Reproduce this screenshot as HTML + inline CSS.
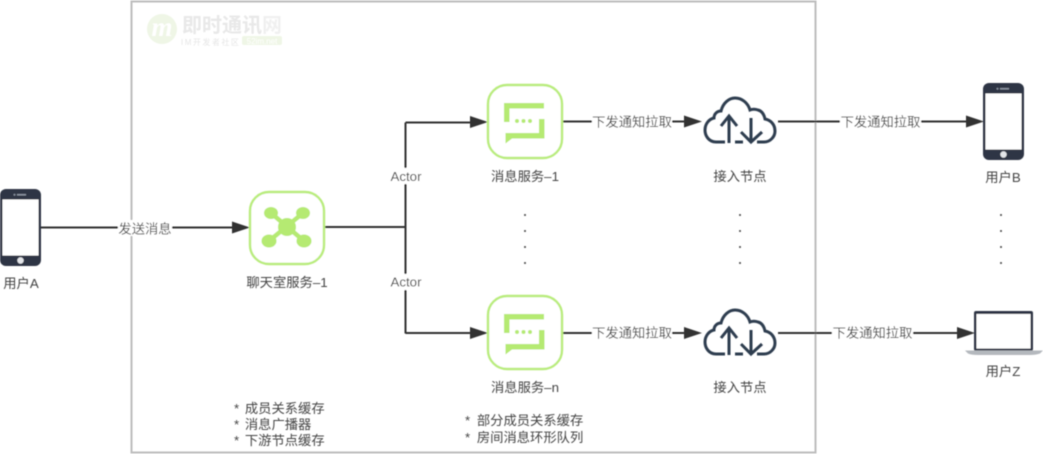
<!DOCTYPE html>
<html><head><meta charset="utf-8"><style>
html,body{margin:0;padding:0;background:#fff;width:1043px;height:454px;overflow:hidden}
svg{display:block}
text{font-family:"Liberation Sans","Noto Sans CJK SC",sans-serif;font-size:13.3px;fill:#444}
.c{text-anchor:middle}
.l{stroke:#333;stroke-width:2;fill:none}
.a{fill:#333}
.n{fill:#fff;stroke:#b9ec7d;stroke-width:2.4}
.g{fill:#b5ea72}
.d{fill:#2f3545}
.cl{fill:none;stroke:#2f3e50;stroke-width:3}
</style></head><body>
<svg width="1043" height="454" viewBox="0 0 1043 454" xmlns="http://www.w3.org/2000/svg">
<defs>
<g id="msg">
<rect class="n" x="488" y="85" width="74" height="73" rx="19"/>
<path class="g" d="M504 103H544V108.500H509.500V122H504Z"/>
<path class="g" d="M539 119H544.500V138.500H512L505.500 143.500V133H539Z"/>
<circle class="g" cx="517" cy="121" r="2"/><circle class="g" cx="523.500" cy="121" r="2"/><circle class="g" cx="530" cy="121" r="2"/>
</g>
<g id="cloud">
<path class="cl" d="M725 142H716C709 142 705 136 705 130C705 124 709 119 714 118C714 114 717 111 721 111C723 103 729 98 735 98C742 98 748 103 750 110C752.500 109 755 109 758 110C762 111 764 114 765 119C771 120 775 125 775 131C775 137 770 142 764 142H757"/>
<path class="cl" d="M729 143V116M721 126L729 116L737 126M751 118V142M741 132L751 142L762 132M735 142H743"/>
</g>
<g id="phone">
<rect class="d" x="0" y="0" width="41" height="77" rx="6"/>
<rect x="2.500" y="10.500" width="36" height="56" fill="#fff"/>
<rect x="17" y="5" width="9" height="1.500" fill="#8a93a0"/>
<circle cx="14.500" cy="5.700" r="1" fill="#8a93a0"/>
<circle cx="20.500" cy="71.500" r="3.200" fill="#e4e6ea"/>
</g>
<filter id="b" x="-5%" y="-5%" width="110%" height="110%"><feGaussianBlur stdDeviation="0.4"/></filter>
</defs>
<g filter="url(#b)">
<rect x="131.500" y="1.500" width="684" height="451" fill="none" stroke="#bdbdbd" stroke-width="2"/>

<!-- watermark -->
<circle cx="162" cy="29" r="15" fill="#eff6e6"/>
<text x="162" y="36" class="c" style="font-family:'Liberation Serif',serif;font-size:27px;font-style:italic;font-weight:bold;fill:#fff">m</text>
<text x="182" y="32" style="font-size:20px;font-weight:bold;fill:#e8e8e8">即时通讯<tspan style="fill:#f0f0f0">网</tspan></text>
<text x="181" y="45" style="font-size:8px;fill:#e6e6e6;letter-spacing:1.500px">IM开发者社区</text>
<rect x="242" y="36" width="40" height="9" rx="2" fill="#eff6e6"/>
<text x="262" y="44" class="c" style="font-size:8px;fill:#fff">52im.net</text>

<!-- connectors -->
<path class="l" d="M41 227.500H236"/><path class="a" d="M250 227.500l-18-6v12z"/>
<path class="l" d="M325 227H406M405.500 122.500V333.500"/>
<path class="l" d="M405.500 122.500H474"/><path class="a" d="M488 122l-18-6v12z"/>
<path class="l" d="M405.500 333H474"/><path class="a" d="M488 333l-18-6v12z"/>
<path class="l" d="M563 121.500H688"/><path class="a" d="M702 121.500l-18-6v12z"/>
<path class="l" d="M563 333H688"/><path class="a" d="M702 333l-18-6v12z"/>
<path class="l" d="M778 121.500H970"/><path class="a" d="M984 121.500l-18-6v12z"/>
<path class="l" d="M778 333H961"/><path class="a" d="M975 333l-18-6v12z"/>

<!-- nodes -->
<rect class="n" x="250" y="192" width="74" height="72" rx="19"/>
<g stroke="#b5ea72" stroke-width="4.500"><path d="M271 213L304 241M303 213L269 241"/></g>
<circle class="g" cx="287" cy="227" r="9"/>
<ellipse class="g" cx="271" cy="213" rx="7" ry="6"/><ellipse class="g" cx="303" cy="213" rx="7" ry="6"/>
<ellipse class="g" cx="269" cy="241" rx="7.500" ry="6.500"/><ellipse class="g" cx="304" cy="241" rx="7.500" ry="6.500"/>

<use href="#msg"/><use href="#msg" y="211"/>
<use href="#cloud"/><use href="#cloud" y="212"/>
<use href="#phone" x="0" y="189"/>
<use href="#phone" x="983" y="83"/>

<!-- laptop -->
<rect x="974" y="311" width="59" height="40" rx="2" fill="#2f3545"/>
<rect x="976.500" y="314" width="54" height="34.500" fill="#fff"/>
<path d="M965 350.500H1043L1040 353.500Q1036 355 1030 355H978Q971 355 968 353.500Z" fill="#b4b8bd"/>

<!-- edge labels -->
<rect x="118" y="220" width="54" height="16" fill="#fff"/>
<text x="145" y="233.500" class="c">发送消息</text>
<rect x="388" y="168" width="36" height="16" fill="#fff"/>
<text x="406" y="181" class="c">Actor</text>
<rect x="388" y="274" width="36" height="16" fill="#fff"/>
<text x="406" y="286.500" class="c">Actor</text>
<rect x="592" y="114" width="80" height="16" fill="#fff"/>
<text x="632" y="126.500" class="c">下发通知拉取</text>
<rect x="592" y="325" width="80" height="16" fill="#fff"/>
<text x="632" y="337.500" class="c">下发通知拉取</text>
<rect x="840" y="114" width="81" height="16" fill="#fff"/>
<text x="880.500" y="126.500" class="c">下发通知拉取</text>
<rect x="832" y="325" width="81" height="16" fill="#fff"/>
<text x="872.500" y="337.500" class="c">下发通知拉取</text>

<!-- node labels -->
<text x="21" y="288" class="c">用户A</text>
<text x="287" y="287" class="c">聊天室服务–1</text>
<text x="525" y="181" class="c">消息服务–1</text>
<text x="525" y="392" class="c">消息服务–n</text>
<text x="740" y="181" class="c">接入节点</text>
<text x="740" y="392" class="c">接入节点</text>
<text x="1003" y="182" class="c">用户B</text>
<text x="1003" y="376" class="c">用户Z</text>

<!-- dots -->
<g fill="#444">
<circle cx="525" cy="215" r="1"/><circle cx="525" cy="231" r="1"/><circle cx="525" cy="247" r="1"/><circle cx="525" cy="263" r="1"/>
<circle cx="740" cy="215" r="1"/><circle cx="740" cy="231" r="1"/><circle cx="740" cy="247" r="1"/><circle cx="740" cy="263" r="1"/>
<circle cx="1001" cy="215" r="1"/><circle cx="1001" cy="231" r="1"/><circle cx="1001" cy="247" r="1"/><circle cx="1001" cy="263" r="1"/>
</g>

<!-- notes -->
<text x="234" y="413">* <tspan dx="2">成员关系缓存</tspan></text>
<text x="234" y="429">* <tspan dx="2">消息广播器</tspan></text>
<text x="234" y="445">* <tspan dx="2">下游节点缓存</tspan></text>
<text x="465" y="425">* <tspan dx="3">部分成员关系缓存</tspan></text>
<text x="465" y="442">* <tspan dx="3">房间消息环形队列</tspan></text>
</g>
</svg>
</body></html>
